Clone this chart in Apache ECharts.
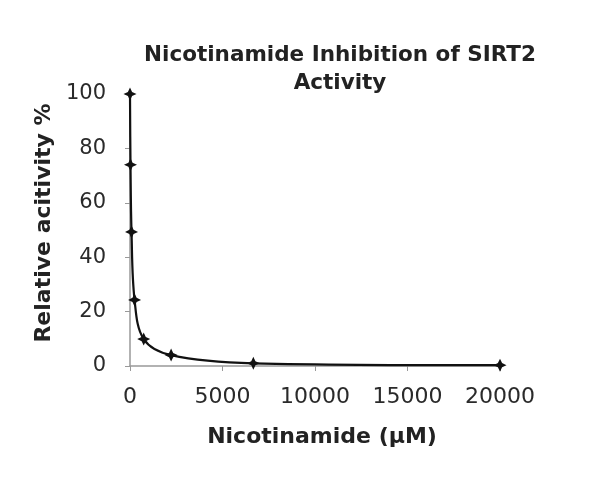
<!DOCTYPE html>
<html><head><meta charset="utf-8">
<script src="https://cdn.jsdelivr.net/npm/echarts@6/dist/echarts.min.js"></script>
<style>html,body{margin:0;padding:0;background:#fff}#c{width:603px;height:480px}</style>
</head><body><div id="c"></div>
<script>
var concentrations = [0, 27, 82, 247, 741, 2222, 6667, 20000];
var activity = [100, 74, 49.3, 24.3, 9.9, 4.0, 1.0, 0.3];
var xTicks = [0, 5000, 10000, 15000, 20000];
var yTicks = [0, 20, 40, 60, 80, 100];
var titleText = 'Nicotinamide Inhibition of SIRT2\nActivity';
var xName = 'Nicotinamide (µM)';
var yName = 'Relative acitivity %';

var chart = echarts.init(document.getElementById('c'));
var font = 'DejaVu Sans, sans-serif';
chart.setOption({
  animation: false,
  backgroundColor: '#fff',
  title: {text: titleText, left: 335, top: 36, textAlign: 'center',
    textStyle: {fontFamily: font, fontSize: 21.5, fontWeight: 'bold', color: '#222', lineHeight: 28}},
  grid: {left: 130, right: 103, top: 94, bottom: 114},
  xAxis: {type: 'value', min: xTicks[0], max: xTicks[xTicks.length-1], interval: 5000,
    name: xName, nameLocation: 'middle', nameGap: 60,
    nameTextStyle: {fontFamily: font, fontSize: 22, fontWeight: 'bold', color: '#222', padding: [0, 0, 0, 14]},
    axisLine: {show: true, onZero: false, lineStyle: {color: '#999', width: 1.5}},
    axisTick: {show: true, length: 5, lineStyle: {color: '#999'}},
    axisLabel: {fontFamily: font, fontSize: 22, color: '#2a2a2a', margin: 20,
      formatter: function(v){ return String(v); }},
    splitLine: {show: false}},
  yAxis: {type: 'value', min: yTicks[0], max: yTicks[yTicks.length-1], interval: 20,
    name: yName, nameLocation: 'middle', nameGap: 72, nameRotate: 90,
    nameTextStyle: {fontFamily: font, fontSize: 22, fontWeight: 'bold', color: '#222', padding: [0, 0, 0, 14]},
    axisLine: {show: true, lineStyle: {color: '#999', width: 1.5}},
    axisTick: {show: true, length: 5, lineStyle: {color: '#999'}},
    axisLabel: {fontFamily: font, fontSize: 21, color: '#2a2a2a', margin: 24},
    splitLine: {show: false}},
  series: [{
    type: 'line', smooth: 0.35,
    data: concentrations.map(function(c, i){ return [c, activity[i]]; }),
    symbol: 'path://M0,-1 L0.32,-0.32 L1,0 L0.32,0.32 L0,1 L-0.32,0.32 L-1,0 L-0.32,-0.32Z',
    symbolSize: 13,
    itemStyle: {color: '#111'},
    lineStyle: {color: '#111', width: 2.2}
  }]
});
</script></body></html>
